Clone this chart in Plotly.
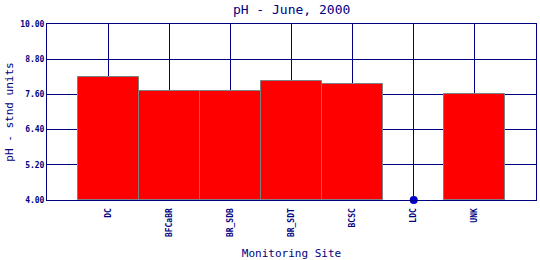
import plotly.graph_objects as go

sites = ["DC", "BFCaBR", "BR_SDB", "BR_SDT", "BCSC", "LDC", "UNK"]
ph_values = [8.19, 7.70, 7.70, 8.05, 7.95, None, 7.60]
missing_sites = ["LDC"]
missing_values = [4.00]
y_ticks = [4.00, 5.20, 6.40, 7.60, 8.80, 10.00]

navy = "#000080"
mono = "DejaVu Sans Mono"

fig = go.Figure()
fig.add_trace(go.Bar(
    x=sites, y=[v - 4.0 if v is not None else None for v in ph_values], base=4.0,
    width=1.0,
    marker=dict(color="#ff0000", line=dict(color="#808080", width=1)),
    showlegend=False, hoverinfo="skip",
))
fig.add_trace(go.Scatter(
    x=missing_sites, y=missing_values, mode="markers",
    marker=dict(color="#0000cc", size=8),
    showlegend=False, cliponaxis=False,
))

fig.update_layout(
    width=540, height=260,
    margin=dict(l=47, r=4, t=24, b=60, autoexpand=False),
    paper_bgcolor="white", plot_bgcolor="white",
    bargap=0,
    title=dict(text="pH - June, 2000", x=0.54, xanchor="center", y=0.962, yanchor="middle",
               font=dict(family=mono, size=13, color=navy)),
    xaxis=dict(
        type="category", categoryorder="array", categoryarray=sites,
        tickvals=sites, ticktext=[f"<b>{s}</b>" for s in sites],
        range=[-1, 7], automargin=False,
        showgrid=True, gridcolor=navy, gridwidth=1,
        showline=True, linecolor=navy, linewidth=1, mirror=True,
        tickangle=-90, ticks="outside", ticklen=4, tickcolor="rgba(0,0,0,0)",
        tickfont=dict(family=mono, size=8, color=navy),
        title=dict(text="Monitoring Site", font=dict(family=mono, size=11, color=navy), standoff=16),
        zeroline=False,
    ),
    yaxis=dict(
        range=[4.0, 10.0], tickvals=y_ticks, ticktext=[f"<b>{t:.2f}</b>" for t in y_ticks],
        automargin=False,
        showgrid=True, gridcolor=navy, gridwidth=1,
        showline=True, linecolor=navy, linewidth=1, mirror=True,
        ticks="", tickfont=dict(family=mono, size=8, color=navy),
        title=dict(text="pH - stnd units", font=dict(family=mono, size=11, color=navy), standoff=4),
        zeroline=False,
    ),
)

fig.write_html("out.html")
